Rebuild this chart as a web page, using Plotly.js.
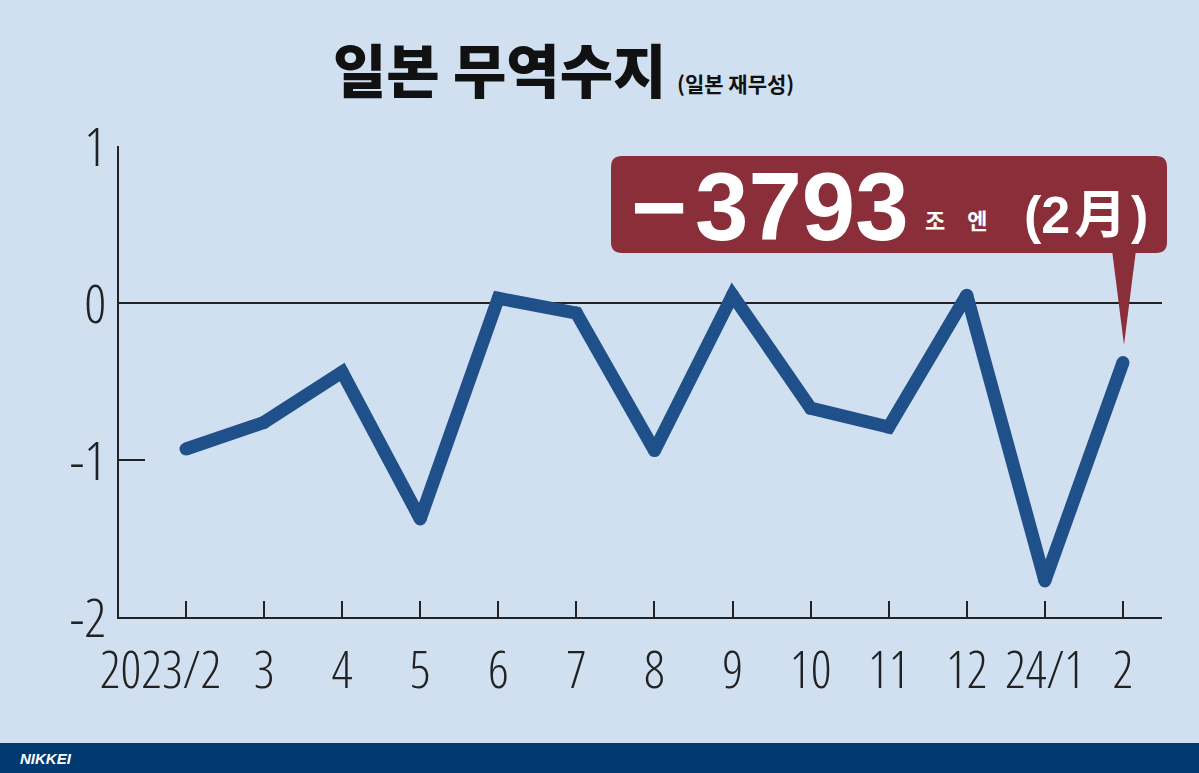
<!DOCTYPE html>
<html>
<head>
<meta charset="utf-8">
<script src="https://cdn.plot.ly/plotly-3.0.1.min.js"></script>
<style>
  html, body { margin: 0; padding: 0; background: #d0e0f1; }
  #chart { width: 1199px; height: 773px; }
  #chart .xtick text, #chart .ytick text { font-stretch: 82%; }
</style>
</head>
<body>
<div id="chart"></div>
<script>
// ---- data ----
const months = ['2023/2', '3', '4', '5', '6', '7', '8', '9', '10', '11', '12', '24/1', '2'];
const balance = [-0.93, -0.76, -0.44, -1.375, 0.03, -0.064, -0.94, 0.05, -0.67, -0.79, 0.05, -1.77, -0.3793];
const yTickVals = [-2, -1, 0, 1];
const yTickText = ['-2', '-1', '0', '1'];
const titleText = '일본 무역수지';
const sourceText = '(일본 재무성)';
const calloutValue = '\u2212\u200A3793';
const calloutUnit = '조\u2003엔';
const calloutMonth = '(2\u200A月\u200A)';
const brandText = 'NIKKEI';

// ---- layout helpers (pixel -> paper) ----
const W = 1199, H = 773;
const M = { l: 119, r: 37, t: 146, b: 156 };
const PW = W - M.l - M.r, PH = H - M.t - M.b;
const px = x => (x - M.l) / PW;
const py = y => (H - M.b - y) / PH;

const idx = months.map((_, i) => i);
// first label sits left of its tick in the original (padding keeps it clear of "3")
const xTickText = months.map((m, i) => (i === 0 ? m + '\u2002\u2002' : m));

const tickFamily = '"Open Sans", "Liberation Sans", sans-serif';
const axisColor = '#222';
const bg = '#d0e0f1';
const lineColor = '#20508a';
const boxColor = '#8a2f39';

function roundRect(x0, y0, x1, y1, r) {
  const p = (x, y) => px(x).toFixed(5) + ',' + py(y).toFixed(5);
  return 'M' + p(x0 + r, y0) + ' L' + p(x1 - r, y0) + ' Q' + p(x1, y0) + ' ' + p(x1, y0 + r) +
    ' L' + p(x1, y1 - r) + ' Q' + p(x1, y1) + ' ' + p(x1 - r, y1) +
    ' L' + p(x0 + r, y1) + ' Q' + p(x0, y1) + ' ' + p(x0, y1 - r) +
    ' L' + p(x0, y0 + r) + ' Q' + p(x0, y0) + ' ' + p(x0 + r, y0) + ' Z';
}
function tri(a, b, c) {
  const p = (q) => px(q[0]).toFixed(5) + ',' + py(q[1]).toFixed(5);
  return 'M' + p(a) + ' L' + p(b) + ' L' + p(c) + ' Z';
}

const trace = {
  x: idx,
  y: balance,
  type: 'scatter',
  mode: 'lines+markers',
  line: { color: lineColor, width: 13, shape: 'linear' },
  marker: { color: lineColor, size: 13, line: { width: 0 } },
  hoverinfo: 'skip',
  showlegend: false
};

const layout = {
  width: W, height: H,
  margin: M,
  autosize: false,
  paper_bgcolor: bg,
  plot_bgcolor: bg,
  showlegend: false,
  xaxis: {
    range: [-0.858, 12.5],
    tickmode: 'array',
    tickvals: idx,
    ticktext: xTickText,
    tickangle: 0,
    showline: true, linecolor: axisColor, linewidth: 2,
    ticks: 'inside', ticklen: 16, tickwidth: 2, tickcolor: axisColor,
    showgrid: false, zeroline: false,
    tickfont: { family: tickFamily, size: 51, weight: 350, color: axisColor },
    ticklabelstandoff: 8,
    fixedrange: true
  },
  yaxis: {
    range: [-2, 1],
    tickmode: 'array',
    tickvals: yTickVals,
    ticktext: yTickText,
    showline: true, linecolor: axisColor, linewidth: 2,
    ticks: 'inside', ticklen: 26, tickwidth: 2, tickcolor: axisColor,
    showgrid: false,
    zeroline: true, zerolinecolor: axisColor, zerolinewidth: 1.5,
    tickfont: { family: tickFamily, size: 54, weight: 350, color: axisColor },
    ticklabelstandoff: 0,
    ticklabelshift: 1,
    fixedrange: true
  },
  shapes: [
    { type: 'rect', xref: 'paper', yref: 'paper', x0: px(0), x1: px(W), y0: py(H + 2), y1: py(743),
      fillcolor: '#003a70', line: { width: 0 }, layer: 'above' },
    { type: 'path', xref: 'paper', yref: 'paper', path: roundRect(611, 156, 1167, 253, 11),
      fillcolor: boxColor, line: { width: 0 }, layer: 'above' },
    { type: 'path', xref: 'paper', yref: 'paper', path: tri([1112, 250], [1136, 250], [1124, 345]),
      fillcolor: boxColor, line: { width: 0 }, layer: 'above' }
  ],
  annotations: [
    { xref: 'paper', yref: 'paper', x: px(331), y: py(68), xanchor: 'left', yanchor: 'middle',
      text: titleText, showarrow: false,
      font: { family: '"Noto Sans CJK KR", sans-serif', size: 58, weight: 900, color: '#111' } },
    { xref: 'paper', yref: 'paper', x: px(675), y: py(83), xanchor: 'left', yanchor: 'middle',
      text: sourceText, showarrow: false,
      font: { family: '"Noto Sans CJK KR", sans-serif', size: 21, weight: 700, color: '#111' } },
    { xref: 'paper', yref: 'paper', x: px(629), y: py(206), xanchor: 'left', yanchor: 'middle',
      text: calloutValue, showarrow: false,
      font: { family: '"Liberation Sans", Arial, sans-serif', size: 96, weight: 700, color: '#fff' } },
    { xref: 'paper', yref: 'paper', x: px(923), y: py(219), xanchor: 'left', yanchor: 'middle',
      text: calloutUnit, showarrow: false,
      font: { family: '"Noto Sans CJK KR", sans-serif', size: 22, weight: 700, color: '#fff' } },
    { xref: 'paper', yref: 'paper', x: px(1022), y: py(215), xanchor: 'left', yanchor: 'middle',
      text: calloutMonth, showarrow: false,
      font: { family: '"Liberation Sans", "Noto Sans CJK JP", sans-serif', size: 52, weight: 700, color: '#fff' } },
    { xref: 'paper', yref: 'paper', x: px(18), y: py(758), xanchor: 'left', yanchor: 'middle',
      text: brandText, showarrow: false,
      font: { family: '"Liberation Sans", Arial, sans-serif', size: 15, weight: 700, style: 'italic', color: '#fff' } }
  ]
};

Plotly.newPlot('chart', [trace], layout, { displayModeBar: false, staticPlot: true });
</script>
</body>
</html>
